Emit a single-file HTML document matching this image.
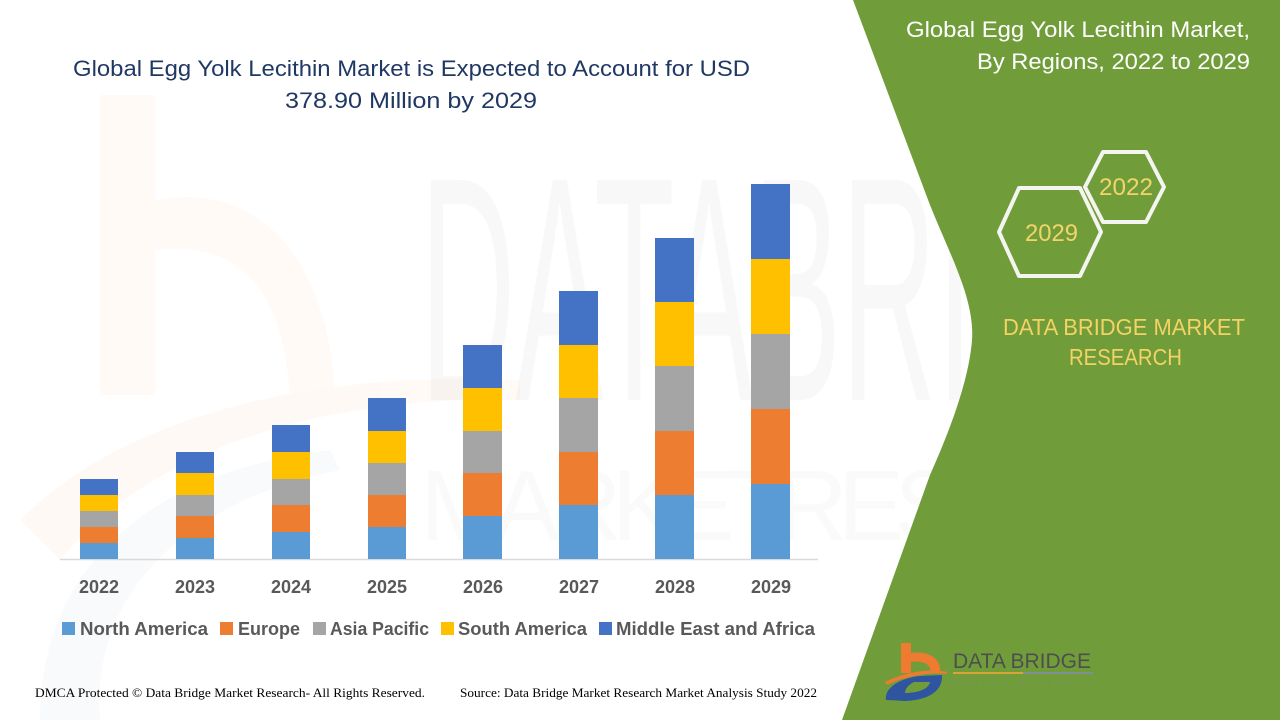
<!DOCTYPE html>
<html><head><meta charset="utf-8"><style>
html,body{margin:0;padding:0;background:#fff;}
svg{display:block;}
</style></head><body>
<svg width="1280" height="720" viewBox="0 0 1280 720" xmlns="http://www.w3.org/2000/svg">
<rect width="1280" height="720" fill="#ffffff"/>
<!-- faint watermark -->
<g opacity="0.45">
<rect x="100" y="95" width="55" height="300" fill="#fff4ec"/>
<path d="M155 200 C 260 180 330 260 335 400 L 290 400 C 285 290 240 240 155 250 Z" fill="#fff4ec"/>
<path d="M20 520 C 120 420 300 370 520 380 L 520 400 C 320 395 150 450 60 560 Z" fill="#fff3eb"/>
<path d="M40 720 C 40 560 160 470 330 450 L 340 470 C 190 500 90 590 100 720 Z" fill="#f1f4f9"/>
</g>
<text x="420" y="400" font-family="Liberation Sans, sans-serif" font-size="320" fill="#000" opacity="0.022" textLength="840" lengthAdjust="spacingAndGlyphs">DATABRIDGE</text>
<text x="420" y="540" font-family="Liberation Sans, sans-serif" font-size="100" fill="#000" opacity="0.015" textLength="840" lengthAdjust="spacing">MARKETRESEARCH</text>

<!-- green panel -->
<path d="M853 0 L930 205 C950 255 975 300 972 340 C969 380 950 430 930 475 L842 720 L1280 720 L1280 0 Z" fill="#709d3a"/>

<!-- title -->
<text x="73" y="76" font-family="Liberation Sans, sans-serif" font-size="22" fill="#203864" textLength="677" lengthAdjust="spacingAndGlyphs">Global Egg Yolk Lecithin Market is Expected to Account for USD</text>
<text x="285" y="108" font-family="Liberation Sans, sans-serif" font-size="22" fill="#203864" textLength="252" lengthAdjust="spacingAndGlyphs">378.90 Million by 2029</text>

<!-- axis -->
<line x1="60" y1="559.5" x2="818" y2="559.5" stroke="#d9d9d9" stroke-width="1.5"/>

<!-- bars -->
<g>
<rect x="80" y="543" width="38" height="16" fill="#5b9bd5"/>
<rect x="80" y="527" width="38" height="16" fill="#ed7d31"/>
<rect x="80" y="511" width="38" height="16" fill="#a5a5a5"/>
<rect x="80" y="495" width="38" height="16" fill="#ffc000"/>
<rect x="80" y="479" width="38" height="16" fill="#4472c4"/>
<rect x="176" y="538" width="38" height="21" fill="#5b9bd5"/>
<rect x="176" y="516" width="38" height="22" fill="#ed7d31"/>
<rect x="176" y="495" width="38" height="21" fill="#a5a5a5"/>
<rect x="176" y="473" width="38" height="22" fill="#ffc000"/>
<rect x="176" y="452" width="38" height="21" fill="#4472c4"/>
<rect x="272" y="532" width="38" height="27" fill="#5b9bd5"/>
<rect x="272" y="505" width="38" height="27" fill="#ed7d31"/>
<rect x="272" y="479" width="38" height="26" fill="#a5a5a5"/>
<rect x="272" y="452" width="38" height="27" fill="#ffc000"/>
<rect x="272" y="425" width="38" height="27" fill="#4472c4"/>
<rect x="368" y="527" width="38" height="32" fill="#5b9bd5"/>
<rect x="368" y="495" width="38" height="32" fill="#ed7d31"/>
<rect x="368" y="463" width="38" height="32" fill="#a5a5a5"/>
<rect x="368" y="431" width="38" height="32" fill="#ffc000"/>
<rect x="368" y="398" width="38" height="33" fill="#4472c4"/>
<rect x="463" y="516" width="39" height="43" fill="#5b9bd5"/>
<rect x="463" y="473" width="39" height="43" fill="#ed7d31"/>
<rect x="463" y="431" width="39" height="42" fill="#a5a5a5"/>
<rect x="463" y="388" width="39" height="43" fill="#ffc000"/>
<rect x="463" y="345" width="39" height="43" fill="#4472c4"/>
<rect x="559" y="505" width="39" height="54" fill="#5b9bd5"/>
<rect x="559" y="452" width="39" height="53" fill="#ed7d31"/>
<rect x="559" y="398" width="39" height="54" fill="#a5a5a5"/>
<rect x="559" y="345" width="39" height="53" fill="#ffc000"/>
<rect x="559" y="291" width="39" height="54" fill="#4472c4"/>
<rect x="655" y="495" width="39" height="64" fill="#5b9bd5"/>
<rect x="655" y="431" width="39" height="64" fill="#ed7d31"/>
<rect x="655" y="366" width="39" height="65" fill="#a5a5a5"/>
<rect x="655" y="302" width="39" height="64" fill="#ffc000"/>
<rect x="655" y="238" width="39" height="64" fill="#4472c4"/>
<rect x="751" y="484" width="39" height="75" fill="#5b9bd5"/>
<rect x="751" y="409" width="39" height="75" fill="#ed7d31"/>
<rect x="751" y="334" width="39" height="75" fill="#a5a5a5"/>
<rect x="751" y="259" width="39" height="75" fill="#ffc000"/>
<rect x="751" y="184" width="39" height="75" fill="#4472c4"/>
</g>

<!-- x labels -->
<g font-family="Liberation Sans, sans-serif" font-size="18" font-weight="bold" fill="#595959" text-anchor="middle">
<text x="99" y="593">2022</text>
<text x="195" y="593">2023</text>
<text x="291" y="593">2024</text>
<text x="387" y="593">2025</text>
<text x="483" y="593">2026</text>
<text x="579" y="593">2027</text>
<text x="675" y="593">2028</text>
<text x="771" y="593">2029</text>
</g>

<!-- legend -->
<g font-family="Liberation Sans, sans-serif" font-size="18" font-weight="bold" fill="#595959">
<rect x="62" y="622" width="13" height="13" fill="#5b9bd5"/>
<text x="80" y="635" textLength="128" lengthAdjust="spacingAndGlyphs">North America</text>
<rect x="220" y="622" width="13" height="13" fill="#ed7d31"/>
<text x="238" y="635" textLength="62" lengthAdjust="spacingAndGlyphs">Europe</text>
<rect x="313" y="622" width="13" height="13" fill="#a5a5a5"/>
<text x="330" y="635" textLength="99" lengthAdjust="spacingAndGlyphs">Asia Pacific</text>
<rect x="441" y="622" width="13" height="13" fill="#ffc000"/>
<text x="458" y="635" textLength="129" lengthAdjust="spacingAndGlyphs">South America</text>
<rect x="599" y="622" width="13" height="13" fill="#4472c4"/>
<text x="616" y="635" textLength="199" lengthAdjust="spacingAndGlyphs">Middle East and Africa</text>
</g>

<!-- footer -->
<text x="35" y="697" font-family="Liberation Serif, serif" font-size="13" fill="#000" textLength="390" lengthAdjust="spacingAndGlyphs">DMCA Protected © Data Bridge Market Research- All Rights Reserved.</text>
<text x="460" y="697" font-family="Liberation Serif, serif" font-size="13" fill="#000" textLength="357" lengthAdjust="spacingAndGlyphs">Source: Data Bridge Market Research Market Analysis Study 2022</text>

<!-- right panel title -->
<g font-family="Liberation Sans, sans-serif" font-size="22" fill="#ffffff">
<text x="906" y="37" textLength="344" lengthAdjust="spacingAndGlyphs">Global Egg Yolk Lecithin Market,</text>
<text x="977" y="69" textLength="273" lengthAdjust="spacingAndGlyphs">By Regions, 2022 to 2029</text>
</g>

<!-- hexagons -->
<g fill="none" stroke="#f4f4f0" stroke-width="4" stroke-linejoin="round">
<polygon points="1085,187 1103,152 1146,152 1164,187 1146,222 1103,222"/>
<polygon points="999,232 1019,188 1080,188 1101,232 1080,276 1019,276"/>
</g>
<g font-family="Liberation Sans, sans-serif" font-size="24" fill="#f3d46b">
<text x="1099" y="195" textLength="54" lengthAdjust="spacingAndGlyphs">2022</text>
<text x="1025" y="241" textLength="53" lengthAdjust="spacingAndGlyphs">2029</text>
</g>
<g font-family="Liberation Sans, sans-serif" font-size="23" fill="#f4d264">
<text x="1003" y="335" textLength="242" lengthAdjust="spacingAndGlyphs">DATA BRIDGE MARKET</text>
<text x="1069" y="365" textLength="113" lengthAdjust="spacingAndGlyphs">RESEARCH</text>
</g>

<!-- logo -->
<g>
<rect x="901" y="643" width="10" height="30" fill="#ee7b30"/>
<path d="M911 653 C 930 650 942 660 940 673 L 931 673 C 931 665 924 660 911 662 Z" fill="#ee7b30"/>
<path d="M885 682 C 905 672 930 668 947 672 L 947 674 C 930 672 905 676 887 685 Z" fill="#ee7b30"/>
<path d="M886 700 C 884 688 900 678 920 676 L 942 675 C 943 690 930 700 905 701 Z M905 693 C 920 693 929 688 930 682 L 914 682 C 908 685 905 689 905 693 Z" fill="#2f55a0" fill-rule="evenodd"/>
<text x="953" y="668" font-family="Liberation Sans, sans-serif" font-size="21" fill="#4e4e4e" textLength="138" lengthAdjust="spacingAndGlyphs">DATA BRIDGE</text>
<rect x="953" y="672" width="70" height="2" fill="#d9a23a"/>
<rect x="1023" y="672" width="70" height="2" fill="#7f8f9a"/>
<text x="953" y="685" font-family="Liberation Sans, sans-serif" font-size="6" fill="#7a8a6a" textLength="138" lengthAdjust="spacing">MARKET  RESEARCH</text>
</g>
</svg>
</body></html>
